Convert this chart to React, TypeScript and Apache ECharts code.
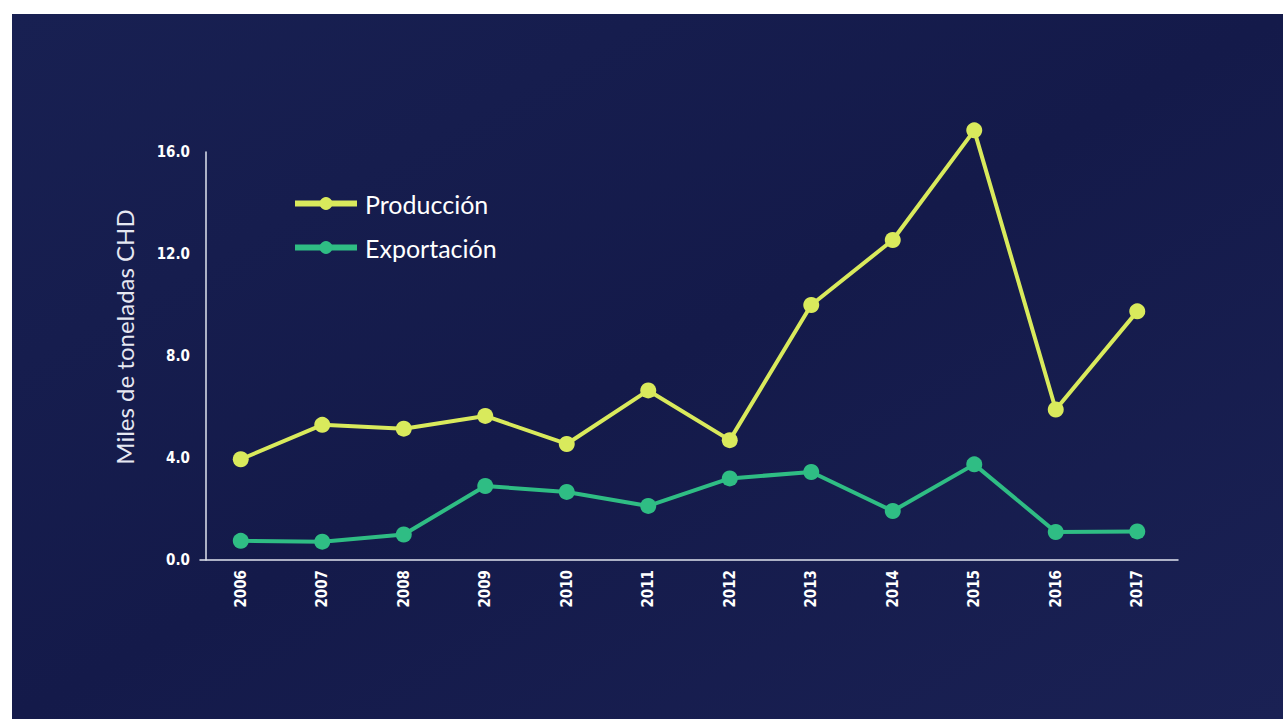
import React, { useEffect, useRef } from "react";
import * as echarts from "echarts";

const years = ["2006", "2007", "2008", "2009", "2010", "2011", "2012", "2013", "2014", "2015", "2016", "2017"];
const produccion = [3.95, 5.3, 5.15, 5.65, 4.55, 6.65, 4.7, 10.0, 12.55, 16.85, 5.9, 9.75];
const exportacion = [0.75, 0.72, 1.0, 2.9, 2.67, 2.12, 3.2, 3.45, 1.92, 3.75, 1.1, 1.12];
const yTicks = { min: 0, max: 16, interval: 4 };

const YELLOW = "#d9ea5c";
const GREEN = "#2fbd84";
const BG = "#161c4e";
const tickFont = "'DejaVu Sans Condensed', 'Liberation Sans Narrow', 'Roboto', sans-serif";

export default function App() {
  const ref = useRef<HTMLDivElement>(null);
  useEffect(() => {
    if (!ref.current) return;
    const chart = echarts.init(ref.current, null, { renderer: "svg" });
    chart.setOption({
      animation: false,
      backgroundColor: {
        type: "linear",
        x: 0, y: 0, x2: 1, y2: 1,
        colorStops: [
          { offset: 0, color: "#182052" },
          { offset: 0.5, color: "#141a4a" },
          { offset: 1, color: "#1a2154" },
        ],
      },
      grid: { left: 188, top: 138, width: 978, height: 408 },
      legend: {
        orient: "vertical",
        left: 280,
        top: 177,
        padding: 0,
        itemWidth: 62,
        itemHeight: 16,
        itemGap: 19,
        lineStyle: { width: 6 },
        textStyle: { color: "#ffffff", fontSize: 25, fontFamily: "Lato, sans-serif", padding: [0, 0, 0, 3] },
        data: ["Producción", "Exportación"],
      },
      graphic: [
        {
          type: "text",
          x: 112,
          y: 323,
          rotation: Math.PI / 2,
          style: {
            text: "Miles de toneladas CHD",
            fill: "#e6e8f2",
            font: "24px Lato, sans-serif",
            textAlign: "center",
            textVerticalAlign: "middle",
          },
        },
      ],
      xAxis: {
        type: "category",
        data: years,
        boundaryGap: true,
        axisLine: { show: true, lineStyle: { color: "#dfe3ee", width: 1.5 } },
        axisTick: { show: false },
        axisLabel: {
          rotate: 90,
          margin: 10,
          color: "#ffffff",
          fontSize: 15,
          fontWeight: "bold",
          fontFamily: tickFont,
        },
      },
      yAxis: {
        type: "value",
        min: yTicks.min,
        max: yTicks.max,
        interval: yTicks.interval,
        offset: -6,
        axisLine: { show: true, lineStyle: { color: "#dfe3ee", width: 1.5 } },
        axisTick: { show: false },
        splitLine: { show: false },
        axisLabel: {
          margin: 16,
          color: "#ffffff",
          fontSize: 15,
          fontWeight: "bold",
          fontFamily: tickFont,
          formatter: (v: number) => v.toFixed(1),
        },
      },
      series: [
        {
          name: "Producción",
          type: "line",
          data: produccion,
          clip: false,
          symbol: "circle",
          symbolSize: 16,
          lineStyle: { color: YELLOW, width: 4 },
          itemStyle: { color: YELLOW },
        },
        {
          name: "Exportación",
          type: "line",
          data: exportacion,
          clip: false,
          symbol: "circle",
          symbolSize: 16,
          lineStyle: { color: GREEN, width: 4 },
          itemStyle: { color: GREEN },
        },
      ],
    });
    return () => chart.dispose();
  }, []);
  return (
    <div style={{ position: "fixed", left: 0, top: 0, width: 1283, height: 719, background: "#ffffff" }}>
      <div ref={ref} style={{ position: "absolute", left: 12, top: 14, width: 1271, height: 705, background: BG }} />
    </div>
  );
}
